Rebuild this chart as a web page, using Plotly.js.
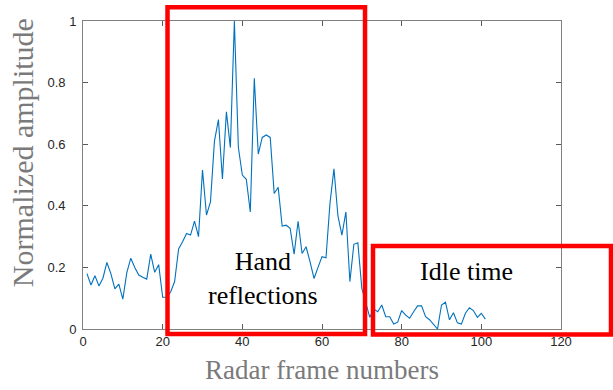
<!DOCTYPE html>
<html>
<head>
<meta charset="utf-8">
<script src="https://cdn.plot.ly/plotly-3.0.1.min.js"></script>
<style>html,body{margin:0;padding:0;background:#fff;}#chart{width:613px;height:390px;}</style>
</head>
<body>
<div id="chart"></div>
<script>
// Radar frame index
const frames = [];
for (let i = 1; i <= 101; i++) frames.push(i);

// Normalized amplitude per frame
const amplitude = [
  0.18, 0.143, 0.173, 0.14, 0.165, 0.216, 0.18, 0.13, 0.146, 0.097,
  0.183, 0.23, 0.2, 0.175, 0.168, 0.162, 0.243, 0.184, 0.209, 0.103,
  0.103, 0.12, 0.154, 0.26, 0.283, 0.31, 0.305, 0.35, 0.30, 0.516,
  0.37, 0.413, 0.61, 0.68, 0.487, 0.705, 0.589, 1.0, 0.59, 0.5,
  0.486, 0.38, 0.814, 0.568, 0.622, 0.63, 0.622, 0.44, 0.46, 0.334,
  0.337, 0.327, 0.243, 0.35, 0.245, 0.267, 0.218, 0.164, 0.2, 0.235,
  0.231, 0.408, 0.52, 0.367, 0.305, 0.38, 0.154, 0.275, 0.28, 0.132,
  0.085, 0.038, 0.065, 0.056, 0.078, 0.04, 0.04, 0.016, 0.022, 0.06,
  0.045, 0.035, 0.056, 0.075, 0.075, 0.04, 0.03, 0.015, 0.0, 0.078,
  0.087, 0.03, 0.053, 0.02, 0.016, 0.051, 0.069, 0.06, 0.038, 0.051,
  0.032
];

const xTicks = [0, 20, 40, 60, 80, 100, 120];
const yTicks = [0, 0.2, 0.4, 0.6, 0.8, 1];
const yTickText = ['0', '0.2\u00a0\u00a0\u00a0', '0.4\u00a0\u00a0\u00a0', '0.6\u00a0\u00a0\u00a0', '0.8\u00a0\u00a0\u00a0', '1'];

const xTitle = 'Radar frame numbers';
const yTitle = 'Normalized amplitude';
const boxLabels = ['Hand<br>reflections', 'Idle time'];

const serif = 'Liberation Serif, Times New Roman, serif';

const trace = {
  x: frames, y: amplitude, type: 'scatter', mode: 'lines',
  line: {color: '#0072BD', width: 1.1}, hoverinfo: 'skip'
};

const axisCommon = {
  showgrid: false, zeroline: false, showline: true, mirror: 'ticks',
  linecolor: '#808080', linewidth: 1, ticks: 'inside', ticklen: 5,
  tickcolor: '#595959', tickwidth: 1,
  tickfont: {family: 'Liberation Sans, Arial, sans-serif', size: 13, color: '#262626'}
};

const redLine = {color: '#ff0000', width: 4.5};

const layout = {
  width: 613, height: 390,
  margin: {l: 83, r: 52, t: 21, b: 61, pad: 0},
  paper_bgcolor: '#ffffff', plot_bgcolor: '#ffffff',
  showlegend: false,
  xaxis: Object.assign({}, axisCommon, {
    range: [0, 120], tickvals: xTicks, ticktext: xTicks.map(String),
    title: {text: xTitle, standoff: 12,
      font: {family: serif, size: 27, color: '#7a7a7a'}}
  }),
  yaxis: Object.assign({}, axisCommon, {
    range: [0, 1], tickvals: yTicks, ticktext: yTickText,
    ticklabelstandoff: 3
  }),
  shapes: [
    {type: 'rect', xref: 'paper', yref: 'paper', x0: 0.1768, x1: 0.590, y0: -0.0162, y1: 1.045, line: redLine, fillcolor: 'rgba(0,0,0,0)'},
    {type: 'rect', xref: 'paper', yref: 'paper', x0: 0.6067, x1: 1.1046, y0: -0.0179, y1: 0.2695, line: redLine, fillcolor: 'rgba(0,0,0,0)'}
  ],
  annotations: [
    {xref: 'paper', yref: 'paper', x: -0.1276, y: 0.571, text: yTitle, textangle: -90, showarrow: false,
      xanchor: 'center', yanchor: 'middle',
      font: {family: serif, size: 30, color: '#7a7a7a'}},
    {xref: 'paper', yref: 'paper', x: 0.3766, y: 0.163, text: boxLabels[0], showarrow: false,
      xanchor: 'center', yanchor: 'middle',
      font: {family: serif, size: 26, color: '#000'}, align: 'center'},
    {xref: 'paper', yref: 'paper', x: 0.8023, y: 0.188, text: boxLabels[1], showarrow: false,
      xanchor: 'center', yanchor: 'middle',
      font: {family: serif, size: 26, color: '#000'}, align: 'center'}
  ]
};

Plotly.newPlot('chart', [trace], layout, {displayModeBar: false, staticPlot: true});
</script>
</body>
</html>
